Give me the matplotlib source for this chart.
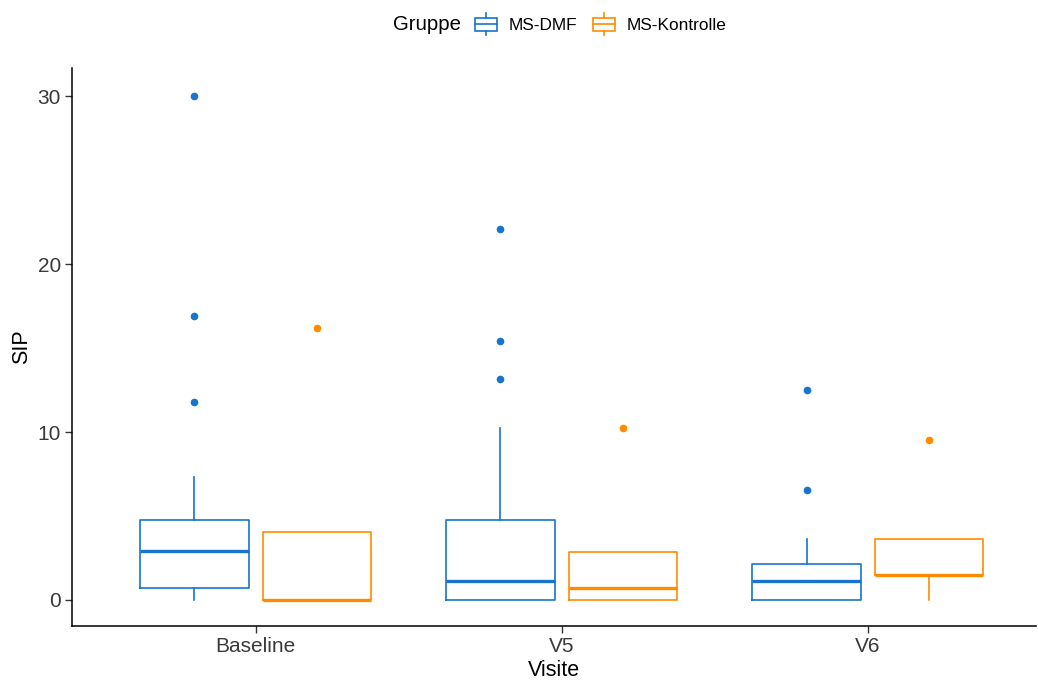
import matplotlib
matplotlib.use("Agg")
import matplotlib.pyplot as plt
from matplotlib.legend_handler import HandlerBase
from matplotlib.patches import Rectangle
from matplotlib.lines import Line2D

plt.rcParams['font.family'] = ['Liberation Sans', 'DejaVu Sans']

visits = ["Baseline", "V5", "V6"]
groups = ["MS-DMF", "MS-Kontrolle"]
colors = ["#1874CD", "#FF8C00"]

# box statistics: whislo, q1, med, q3, whishi
dmf_stats = [[0.0, 0.71, 2.92, 4.76, 7.3],
             [0.0, 0.0, 1.13, 4.76, 10.24],
             [0.0, 0.0, 1.13, 2.14, 3.63]]
dmf_outliers = [[30.0, 16.9, 11.8],
                [22.1, 15.4, 13.15],
                [12.5, 6.55]]
ktr_stats = [[0.0, 0.0, 0.0, 4.05, 4.05],
             [0.0, 0.0, 0.71, 2.86, 2.86],
             [0.0, 1.49, 1.49, 3.63, 3.63]]
ktr_outliers = [[16.2], [10.24], [9.52]]


def make_stats(stats, outliers):
    out = []
    for s, o in zip(stats, outliers):
        out.append(dict(whislo=s[0], q1=s[1], med=s[2], q3=s[3], whishi=s[4], fliers=o))
    return out


fig = plt.figure(figsize=(10.38, 6.82), dpi=100)
ax = fig.add_axes([0.0694, 0.0821, 0.9287, 0.818])

offsets = [-0.2, 0.2]
all_stats = [make_stats(dmf_stats, dmf_outliers), make_stats(ktr_stats, ktr_outliers)]
for i in range(2):
    c = colors[i]
    pos = [k + offsets[i] for k in range(len(visits))]
    ax.bxp(all_stats[i], positions=pos, widths=0.355, showcaps=False, patch_artist=False,
           boxprops=dict(color=c, linewidth=1.2),
           whiskerprops=dict(color=c, linewidth=1.2),
           medianprops=dict(color=c, linewidth=2.4),
           flierprops=dict(marker='o', markerfacecolor=c, markeredgecolor=c, markersize=4.5))

ax.set_xlim(-0.6, 2.55)
ax.set_ylim(-1.55, 31.67)
ax.set_xticks(range(len(visits)))
ax.set_xticklabels(visits)
ax.set_yticks([0, 10, 20, 30])
ax.tick_params(axis='both', labelsize=15, labelcolor='#3a3a3a', color='#333333', length=5, width=1, pad=3)
for side in ['top', 'right']:
    ax.spines[side].set_visible(False)
for side in ['left', 'bottom']:
    ax.spines[side].set_linewidth(1.1)
ax.set_xlabel("Visite", fontsize=15.5, labelpad=3)
ax.set_ylabel("SIP", fontsize=15.5, labelpad=4)


class BoxHandler(HandlerBase):
    def create_artists(self, legend, orig_handle, xdescent, ydescent, width, height, fontsize, trans):
        c = orig_handle.get_color()
        x0, w = -xdescent, width
        y0, h = -ydescent, height
        rect = Rectangle((x0, y0 + 0.1 * h), w, 0.8 * h, fill=False, edgecolor=c, lw=1.2, transform=trans)
        mid = Line2D([x0, x0 + w], [y0 + 0.5 * h] * 2, color=c, lw=1.2, transform=trans)
        top = Line2D([x0 + w / 2] * 2, [y0 + 0.9 * h, y0 + 1.17 * h], color=c, lw=1.2, transform=trans)
        bot = Line2D([x0 + w / 2] * 2, [y0 - 0.17 * h, y0 + 0.1 * h], color=c, lw=1.2, transform=trans)
        return [rect, mid, top, bot]


handles = [Line2D([], [], color=c) for c in colors]
fig.text(461 / 1038, 0.964, "Gruppe", ha='right', va='center', fontsize=14.7, color='black')
fig.legend(handles, groups, handler_map={Line2D: BoxHandler()}, loc='center left',
           bbox_to_anchor=(475 / 1038, 0.964), ncol=2, frameon=False, fontsize=12.4,
           handlelength=1.25, handleheight=1.09, handletextpad=0.7, columnspacing=0.93,
           borderaxespad=0, borderpad=0)

fig.savefig("out.png", dpi=100)
